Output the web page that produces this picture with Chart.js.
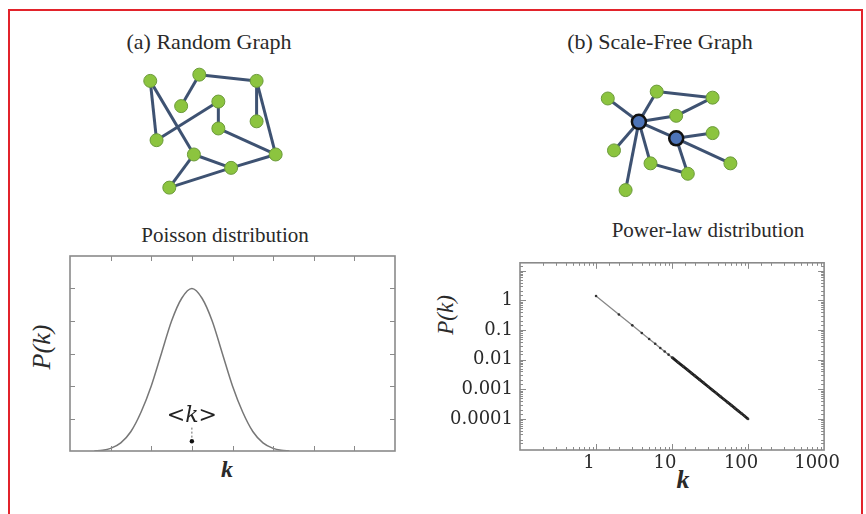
<!DOCTYPE html>
<html>
<head>
<meta charset="utf-8">
<script src="https://cdn.jsdelivr.net/npm/chart.js@4.4.0/dist/chart.umd.min.js"></script>
<style>
  body { margin: 0; background: #fff; width: 866px; height: 514px; overflow: hidden; position: relative; font-family: "Liberation Serif", serif; color: #2a2a2a; }
  .frame { position: absolute; left: 8px; top: 9px; width: 851px; height: 530px; border: 2px solid #e2232b; }
  canvas { position: absolute; }
  .lbl { position: absolute; white-space: nowrap; transform: translate(-50%, -50%); }
  .rot { transform: translate(-50%, -50%) rotate(-90deg); }
  .it { font-style: italic; }
</style>
</head>
<body>
<div class="frame"></div>

<div class="lbl" style="left:209px;top:42px;font-size:22px">(a) Random Graph</div>
<div class="lbl" style="left:660px;top:42px;font-size:22px">(b) Scale-Free Graph</div>
<div class="lbl" style="left:225px;top:235px;font-size:21px">Poisson distribution</div>
<div class="lbl" style="left:708px;top:230px;font-size:21px">Power-law distribution</div>
<div class="lbl rot it" style="left:42px;top:347px;font-size:26px">P(k)</div>
<div class="lbl it" style="left:227px;top:469px;font-size:24px;font-weight:bold">k</div>
<div class="lbl rot it" style="left:446px;top:315px;font-size:23px">P(k)</div>
<div class="lbl it" style="left:683px;top:480px;font-size:26px;font-weight:bold">k</div>

<canvas id="graphA" width="165" height="145" style="left:130px;top:60px"></canvas>
<canvas id="graphB" width="170" height="140" style="left:585px;top:70px"></canvas>
<canvas id="poisson" width="350" height="215" style="left:60px;top:245px"></canvas>
<canvas id="powerlaw" width="420" height="235" style="left:430px;top:245px"></canvas>

<script>
// random graph: node layout (0-10 units) and edges
const randomNodes = [
  [0.85, 8.97], [4.12, 9.45], [7.94, 8.97], [2.91, 7.03], [5.39, 7.38], [7.94, 5.86],
  [5.39, 5.31], [1.27, 4.41], [3.76, 3.31], [9.21, 3.31], [6.24, 2.28], [2.12, 0.76]
];
const randomEdges = [[0,7],[0,8],[1,3],[1,2],[2,5],[2,9],[4,7],[4,6],[6,9],[8,10],[9,10],[8,11],[11,10]];

// scale-free graph: two hubs first, then leaves
const freeNodes = [
  [2.94, 6.5], [5.41, 5.14],
  [0.88, 8.43], [4.12, 9.0], [7.82, 8.5], [5.41, 7.0], [7.82, 5.57],
  [1.29, 4.14], [3.71, 3.07], [6.18, 2.21], [9.0, 3.07], [2.06, 0.86]
];
const freeHubs = [0, 1];
const freeEdges = [[0,2],[0,3],[3,4],[4,5],[0,5],[0,1],[1,6],[1,10],[1,9],[0,7],[0,11],[0,8],[8,9]];

// Poisson degree distribution
const poissonK = [0.6, 0.8, 1, 1.25, 1.5, 1.75, 2, 2.25, 2.5, 2.75, 3, 3.25, 3.5, 3.75, 4, 4.25, 4.5, 4.75, 5, 5.2, 5.4];
const poissonP = [0, 0.02, 0.08, 0.25, 0.6, 1.2, 2.0, 3.0, 4.0, 4.7, 5.0, 4.7, 4.0, 3.0, 2.0, 1.2, 0.6, 0.25, 0.08, 0.02, 0];
const poissonXTicks = [1, 2, 3, 4, 5, 6, 7];
const poissonYTicks = [1, 2, 3, 4, 5];
const meanK = 3;

// power-law degree distribution
const powerK = [1, 2, 3, 4, 5, 6, 7, 8, 9, 10, 12, 14, 16, 18, 20, 23, 26, 30, 34, 38, 43, 48, 54, 60, 67, 74, 82, 90, 100];
const powerP = [1.4, 0.333, 0.144, 0.0794, 0.05, 0.0343, 0.0249, 0.0189, 0.0148, 0.0119, 0.00817, 0.00594, 0.00451,
  0.00353, 0.00284, 0.00212, 0.00165, 0.00122, 0.000946, 0.000752, 0.000582, 0.000463, 0.000363, 0.000292,
  0.000232, 0.000189, 0.000153, 0.000126, 0.0001];
const xLabelValues = [1, 10, 100, 1000];
const xLabelText = ['1', '10', '100', '1000'];
const yLabelValues = [1, 0.1, 0.01, 0.001, 0.0001];
const yLabelText = ['1', '0.1', '0.01', '0.001', '0.0001'];

Chart.defaults.animation = false;
Chart.defaults.events = [];
Chart.defaults.plugins.legend.display = false;
Chart.defaults.plugins.tooltip.enabled = false;

const isDecade = v => Math.abs(Math.log10(v) - Math.round(Math.log10(v))) < 1e-6;

// box around the plot with inward tick marks on all four sides
const frameTicks = {
  id: 'frameTicks',
  afterDatasetsDraw(chart, args, opts) {
    if (!opts.on) return;
    const { ctx, chartArea: a, scales } = chart;
    ctx.save();
    ctx.strokeStyle = opts.color;
    ctx.lineWidth = 1;
    ['x', 'y'].forEach(ax => {
      const s = scales[ax];
      const vals = opts.values ? opts.values[ax] : s.ticks.map(t => t.value);
      vals.forEach(v => {
        const p = Math.round(s.getPixelForValue(v)) + 0.5;
        const len = opts.log ? (isDecade(v) ? 6 : 3) : 5;
        ctx.beginPath();
        if (ax === 'x') {
          if (p <= a.left + 1 || p >= a.right - 1) return;
          ctx.moveTo(p, a.bottom); ctx.lineTo(p, a.bottom - len);
          ctx.moveTo(p, a.top); ctx.lineTo(p, a.top + len);
        } else {
          if (p <= a.top + 1 || p >= a.bottom - 1) return;
          ctx.moveTo(a.left, p); ctx.lineTo(a.left + len, p);
          ctx.moveTo(a.right, p); ctx.lineTo(a.right - len, p);
        }
        ctx.stroke();
      });
    });
    ctx.lineWidth = 1.6;
    ctx.strokeRect(a.left, a.top, a.right - a.left, a.bottom - a.top);
    if (opts.meanLabel) {
      ctx.fillStyle = '#222';
      ctx.font = 'italic 22px "DejaVu Serif"';
      ctx.textAlign = 'center';
      ctx.textBaseline = 'middle';
      ctx.fillText(opts.meanLabel, scales.x.getPixelForValue(meanK), scales.y.getPixelForValue(1.08));
    }
    ctx.restore();
  }
};
Chart.register(frameTicks);

function graphChart(id, nodes, edges, hubs) {
  const edgeSets = edges.map(([i, j]) => ({
    data: [{ x: nodes[i][0], y: nodes[i][1] }, { x: nodes[j][0], y: nodes[j][1] }],
    showLine: true, borderColor: '#3e5272', borderWidth: 3, pointRadius: 0, order: 1, clip: false
  }));
  new Chart(document.getElementById(id), {
    type: 'scatter',
    data: {
      datasets: [{
        data: nodes.map(n => ({ x: n[0], y: n[1] })),
        pointRadius: nodes.map((n, i) => hubs.includes(i) ? 7 : 6.5),
        backgroundColor: nodes.map((n, i) => hubs.includes(i) ? '#4d74b8' : '#8cc43f'),
        borderColor: nodes.map((n, i) => hubs.includes(i) ? '#111' : '#6b9a3a'),
        borderWidth: nodes.map((n, i) => hubs.includes(i) ? 2.5 : 1),
        order: 0, clip: false
      }, ...edgeSets]
    },
    options: {
      responsive: false,
      layout: { padding: 0 },
      scales: {
        x: { type: 'linear', min: 0, max: 10, display: false },
        y: { type: 'linear', min: 0, max: 10, display: false }
      }
    }
  });
}
graphChart('graphA', randomNodes, randomEdges, []);
graphChart('graphB', freeNodes, freeEdges, freeHubs);

new Chart(document.getElementById('poisson'), {
  type: 'scatter',
  data: {
    datasets: [{
      data: poissonK.map((k, i) => ({ x: k, y: poissonP[i] })),
      showLine: true, borderColor: '#777', borderWidth: 1.5, pointRadius: 0,
      cubicInterpolationMode: 'monotone'
    }, {
      data: [{ x: meanK, y: 0.72 }, { x: meanK, y: 0.4 }],
      showLine: true, borderColor: '#666', borderWidth: 1, borderDash: [2, 2], pointRadius: 0
    }, {
      data: [{ x: meanK, y: 0.3 }],
      pointRadius: 2.2, backgroundColor: '#111', borderWidth: 0
    }]
  },
  options: {
    responsive: false,
    layout: { padding: { left: 10, right: 15, top: 11, bottom: 9 } },
    scales: {
      x: { type: 'linear', min: 0, max: 8, display: false },
      y: { type: 'linear', min: 0, max: 6, display: false }
    },
    plugins: {
      frameTicks: { on: true, color: '#8a8a8a', values: { x: poissonXTicks, y: poissonYTicks }, meanLabel: '<k>' }
    }
  }
});

const tickFont = { family: '"DejaVu Serif"', size: 18 };
new Chart(document.getElementById('powerlaw'), {
  type: 'scatter',
  data: {
    datasets: [{
      data: powerK.map((k, i) => ({ x: k, y: powerP[i] })),
      showLine: true, borderColor: '#888', borderWidth: 1.3,
      pointRadius: 1.3, pointBackgroundColor: '#333', pointBorderWidth: 0,
      segment: {
        borderWidth: c => c.p0.parsed.x >= 10 ? 2.8 : 1.3,
        borderColor: c => c.p0.parsed.x >= 10 ? '#1e1e1e' : '#888'
      }
    }]
  },
  options: {
    responsive: false,
    layout: { padding: { left: 0, right: 23, top: 11, bottom: 0 } },
    scales: {
      x: {
        type: 'logarithmic', min: 0.1, max: 1000,
        grid: { display: false, drawTicks: false }, border: { display: false },
        afterFit: s => { s.height = 30; },
        ticks: {
          autoSkip: false, maxRotation: 0, minRotation: 0, padding: 3, labelOffset: -7,
          color: '#2a2a2a', font: tickFont,
          callback: v => {
            const i = xLabelValues.findIndex(t => Math.abs(Math.log10(t) - Math.log10(v)) < 1e-6);
            return i < 0 ? '' : xLabelText[i];
          }
        }
      },
      y: {
        type: 'logarithmic', min: 9e-6, max: 18.5,
        grid: { display: false, drawTicks: false }, border: { display: false },
        afterFit: s => { s.width = 90; },
        ticks: {
          autoSkip: false, padding: 7, color: '#2a2a2a', font: tickFont,
          callback: v => {
            const i = yLabelValues.findIndex(t => Math.abs(Math.log10(t) - Math.log10(v)) < 1e-6);
            return i < 0 ? '' : yLabelText[i];
          }
        }
      }
    },
    plugins: {
      frameTicks: { on: true, color: '#8a8a8a', log: true }
    }
  }
});
</script>
</body>
</html>
